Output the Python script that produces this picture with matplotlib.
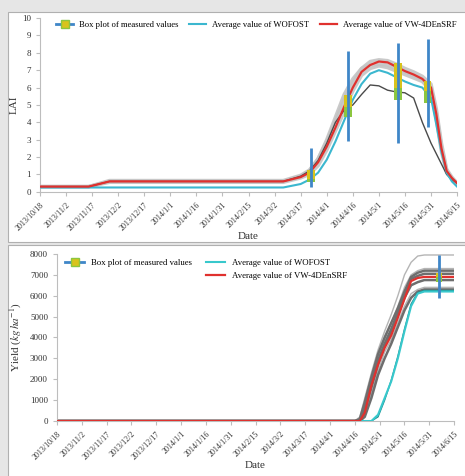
import matplotlib
matplotlib.use('Agg')
import matplotlib.pyplot as plt
from matplotlib.patches import Rectangle
from matplotlib.lines import Line2D
import numpy as np

plt.rcParams['font.family'] = ['Liberation Serif', 'DejaVu Serif']
plt.rcParams['mathtext.fontset'] = 'stix'

# x axis: days since 2013/10/18
tick_days = list(range(0, 241, 15))
tick_labels = ['2013/10/18', '2013/11/2', '2013/11/17', '2013/12/2', '2013/12/17',
               '2014/1/1', '2014/1/16', '2014/1/31', '2014/2/15', '2014/3/2',
               '2014/3/17', '2014/4/1', '2014/4/16', '2014/5/1', '2014/5/16',
               '2014/5/31', '2014/6/15']

# ---- LAI panel ----
lai_days = [0, 28, 40, 140, 150, 155, 160, 165, 170, 175, 180, 185, 190, 195,
            200, 205, 210, 215, 220, 225, 228, 231, 234, 237, 240]
lai_vw = [0.3, 0.3, 0.6, 0.6, 0.85, 1.1, 1.7, 2.6, 3.7, 4.9, 6.0, 6.9, 7.3, 7.5,
          7.45, 7.2, 6.95, 6.75, 6.5, 6.0, 4.5, 2.5, 1.2, 0.8, 0.5]
lai_wofost = [0.25, 0.25, 0.25, 0.25, 0.45, 0.7, 1.1, 1.85, 2.9, 4.1, 5.3, 6.2, 6.8, 7.0,
              6.85, 6.6, 6.35, 6.15, 6.0, 5.4, 3.9, 2.3, 1.1, 0.6, 0.3]
lai_dark = [0.3, 0.3, 0.6, 0.6, 0.9, 1.2, 1.8, 2.8, 4.0, 4.7, 5.0, 5.6, 6.15, 6.1,
            5.85, 5.75, 5.7, 5.4, 4.0, 2.8, 2.2, 1.6, 1.0, 0.7, 0.5]
lai_members = [
    [0.3, 0.3, 0.65, 0.65, 0.95, 1.25, 1.9, 2.9, 4.1, 5.3, 6.3, 7.1, 7.5, 7.6,
     7.55, 7.35, 7.1, 6.9, 6.65, 6.2, 4.8, 2.8, 1.3, 0.85, 0.5],
    [0.3, 0.3, 0.55, 0.55, 0.8, 1.0, 1.5, 2.4, 3.5, 4.6, 5.8, 6.7, 7.1, 7.25,
     7.15, 6.95, 6.75, 6.55, 6.35, 5.8, 4.2, 2.3, 1.1, 0.75, 0.45],
    [0.3, 0.3, 0.6, 0.6, 0.9, 1.2, 1.9, 3.0, 4.3, 5.6, 6.5, 7.1, 7.3, 7.35,
     7.3, 7.1, 6.9, 6.7, 6.45, 6.0, 4.6, 2.6, 1.2, 0.8, 0.5],
]
# measured LAI boxes: day, whisker low, q1, median, q3, whisker high
lai_box_days = [156, 177, 206, 223]
lai_box_lo = [0.3, 2.9, 2.8, 3.75]
lai_box_q1 = [0.55, 4.3, 5.3, 5.1]
lai_box_med = [0.75, 4.9, 6.0, 5.8]
lai_box_q3 = [1.25, 5.6, 7.4, 6.4]
lai_box_hi = [2.5, 8.1, 8.55, 8.8]

# ---- Yield panel ----
y_days = [0, 180, 183, 186, 190, 194, 198, 202, 206, 210, 214, 218, 222, 226, 240]
y_vw = [0, 0, 0, 400, 1700, 2700, 3500, 4100, 4950, 5850, 6700, 6850, 6900, 6900, 6900]
y_wofost = [0, 0, 0, 0, 0, 300, 1100, 1900, 3000, 4300, 5500, 6100, 6200, 6200, 6200]
y_teal = [0, 0, 0, 0, 0, 200, 1000, 1950, 3100, 4400, 5600, 6150, 6250, 6250, 6250]
y_light = [
    [0, 0, 200, 1100, 2300, 3400, 4300, 5100, 6000, 7000, 7600, 7900, 7950, 7950, 7950],
    [0, 0, 0, 800, 2000, 3100, 3900, 4700, 5500, 6400, 7000, 7200, 7300, 7300, 7300],
    [0, 0, 0, 300, 1300, 2400, 3300, 3900, 4700, 5500, 6100, 6300, 6400, 6400, 6400],
]
y_dark = [
    [0, 0, 100, 900, 2100, 3200, 4000, 4700, 5400, 6200, 6900, 7100, 7200, 7200, 7200],
    [0, 0, 0, 600, 1800, 2900, 3700, 4400, 5200, 6100, 6800, 6950, 7050, 7050, 7050],
    [0, 0, 0, 500, 1600, 2700, 3600, 4300, 5100, 5900, 6500, 6650, 6750, 6750, 6750],
    [0, 0, 0, 200, 1100, 2200, 3000, 3700, 4500, 5300, 5900, 6200, 6300, 6300, 6300],
]
y_box_days = [231]
y_box_lo = [5900]
y_box_q1 = [6650]
y_box_med = [6900]
y_box_q3 = [7100]
y_box_hi = [7940]

BLUE = '#3f86c8'
YEL = '#d9c31c'
GRN = '#8cc63f'
RED = '#e0312e'
CYAN = '#3bb7cf'

fig = plt.figure(figsize=(4.65, 4.76), dpi=100, facecolor='#e6e6e6')
fig.patches.append(Rectangle((0.017, 0.4916), 0.99, 0.483, transform=fig.transFigure,
                             facecolor='white', edgecolor='#b0b0b0', lw=0.8, zorder=-1))
fig.patches.append(Rectangle((0.017, -0.02), 0.99, 0.505, transform=fig.transFigure,
                             facecolor='white', edgecolor='#b0b0b0', lw=0.8, zorder=-1))

ax1 = fig.add_axes([0.086, 0.597, 0.897, 0.365])
ax2 = fig.add_axes([0.1226, 0.1155, 0.854, 0.351])


def draw_boxes(ax, days, lo, q1, med, q3, hi, width):
    ax.vlines(days, lo, hi, color=BLUE, lw=2, zorder=6)
    ax.bar(days, np.subtract(q3, med), bottom=med, width=width, color=YEL, zorder=5)
    ax.bar(days, np.subtract(med, q1), bottom=q1, width=width, color=GRN, zorder=5)


def style(ax):
    for s in ['top', 'right']:
        ax.spines[s].set_visible(False)
    for s in ['left', 'bottom']:
        ax.spines[s].set_color('#bdbdbd')
        ax.spines[s].set_linewidth(0.8)
    ax.tick_params(colors='#bdbdbd', labelcolor='#333333', labelsize=6.5, length=3)
    ax.set_xlim(0, 240)
    ax.set_xticks(tick_days)
    ax.set_xticklabels(tick_labels, rotation=45, ha='right', rotation_mode='anchor',
                       fontsize=5.8)
    ax.set_xlabel('Date', fontsize=8, color='#333333', labelpad=0)


# LAI
for m in lai_members:
    ax1.plot(lai_days, m, color='#c4c4c4', lw=2.5, alpha=0.9, zorder=2)
ax1.plot(lai_days, lai_dark, color='#4a4a4a', lw=1, zorder=3)
ax1.plot(lai_days, lai_wofost, color=CYAN, lw=1.5, zorder=4)
ax1.plot(lai_days, lai_vw, color=RED, lw=1.6, zorder=4)
draw_boxes(ax1, lai_box_days, lai_box_lo, lai_box_q1, lai_box_med, lai_box_q3, lai_box_hi, 4.5)
style(ax1)
ax1.set_ylim(0, 10)
ax1.set_yticks(range(0, 11))
ax1.set_ylabel('LAI', fontsize=8, color='#333333', labelpad=2)

box_h = Line2D([], [], color=BLUE, lw=2, marker='s', markersize=6,
               markerfacecolor=YEL, markeredgecolor=GRN)
wof_h = Line2D([], [], color=CYAN, lw=1.5)
vw_h = Line2D([], [], color=RED, lw=1.6)
ax1.legend([box_h, wof_h, vw_h],
           ['Box plot of measured values', 'Average value of WOFOST', 'Average value of VW-4DEnSRF'],
           loc='upper left', bbox_to_anchor=(0.02, 1.03), ncol=3, frameon=False, fontsize=6.2,
           handlelength=2.0, columnspacing=1.2, handletextpad=0.7)

# Yield
for m in y_light:
    ax2.plot(y_days, m, color='#b5b5b5', lw=1, zorder=2)
for m in y_dark:
    ax2.plot(y_days, m, color='#6e6e6e', lw=1.8, zorder=2)
ax2.plot(y_days, y_teal, color='#1c8c8c', lw=1, zorder=3)
ax2.plot(y_days, y_wofost, color='#38c8cc', lw=1.5, zorder=4)
ax2.plot(y_days, y_vw, color=RED, lw=1.6, zorder=4)
draw_boxes(ax2, y_box_days, y_box_lo, y_box_q1, y_box_med, y_box_q3, y_box_hi, 3.5)
style(ax2)
ax2.set_ylim(0, 8000)
ax2.set_yticks(range(0, 8001, 1000))
ax2.set_ylabel('Yield ($kg\\,ha^{-1}$)', fontsize=8, color='#333333', labelpad=4)

leg1 = ax2.legend([box_h], ['Box plot of measured values'], loc='upper left',
                  bbox_to_anchor=(0.0, 1.02), frameon=False, fontsize=6.3, handlelength=2.2)
ax2.add_artist(leg1)
ax2.legend([Line2D([], [], color='#38c8cc', lw=1.5), vw_h],
           ['Average value of WOFOST', 'Average value of VW-4DEnSRF'],
           loc='upper left', bbox_to_anchor=(0.355, 1.02), frameon=False, fontsize=6.3,
           handlelength=2.2, labelspacing=0.6)

fig.savefig('out.png', dpi=100, facecolor=fig.get_facecolor())
